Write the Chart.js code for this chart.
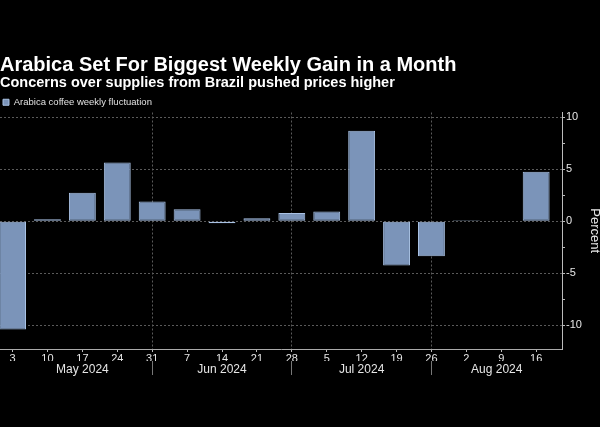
<!DOCTYPE html>
<html>
<head>
<meta charset="utf-8">
<script src="https://cdn.jsdelivr.net/npm/chart.js@4.4.1/dist/chart.umd.min.js"></script>
<style>
	html, body { margin: 0; padding: 0; background: #000; }
	#wrap { width: 600px; height: 427px; }
</style>
</head>
<body>
<div id="wrap"><canvas id="arabica"></canvas></div>
<script>
// weekly bars, dated Fridays May 3 .. Aug 16 2024
var weekDays = ["3", "10", "17", "24", "31", "7", "14", "21", "28", "5", "12", "19", "26", "2", "9", "16"];
var weeklyChange = [-10.4, 0.2, 2.75, 5.65, 1.9, 1.15, -0.2, 0.3, 0.8, 0.95, 8.7, -4.25, -3.35, 0.1, -0.05, 4.75];
var monthNames = ["May 2024", "Jun 2024", "Jul 2024", "Aug 2024"];
var monthFirstWeek = [0, 5, 9, 13];
var yTicks = [-10, -7.5, -5, -2.5, 0, 2.5, 5, 7.5, 10];

var X_MIN = -0.36, X_MAX = 15.74;

// month separators sit on the last week of the previous month
var separators = monthFirstWeek.slice(1).map(function(i) { return i - 1; });
var monthCenters = monthNames.map(function(m, k) {
	var lo = k === 0 ? monthFirstWeek[0] : separators[k - 1];
	var hi = k === monthNames.length - 1 ? X_MAX : separators[k];
	return (lo + hi) / 2;
});

var tickFont = { family: "'Liberation Sans', Arial, sans-serif", size: 11 };

var config = {
	type: 'bar',
	data: {
		datasets: [{
			label: 'Arabica coffee weekly fluctuation',
			data: weeklyChange.map(function(v, i) { return { x: i, y: v }; }),
			backgroundColor: '#7b94b9',
			borderColor: '#a9c2e4',
			borderWidth: 1,
			borderSkipped: false,
			categoryPercentage: 0.77,
			barPercentage: 1.0
		}]
	},
	options: {
		responsive: true,
		maintainAspectRatio: false,
		animation: false,
		layout: { padding: { left: 0, right: 0, top: 0, bottom: 36 } },
		plugins: {
			title: {
				display: true,
				text: 'Arabica Set For Biggest Weekly Gain in a Month',
				align: 'start',
				color: '#ffffff',
				font: { family: "'Liberation Sans', Arial, sans-serif", size: 20, weight: 'bold', lineHeight: 1 },
				padding: { top: 55, bottom: 1 }
			},
			subtitle: {
				display: true,
				text: 'Concerns over supplies from Brazil pushed prices higher',
				align: 'start',
				color: '#ffffff',
				font: { family: "'Liberation Sans', Arial, sans-serif", size: 14.5, weight: 'bold', lineHeight: 1 },
				padding: { top: 0, bottom: 4 }
			},
			legend: {
				display: true,
				align: 'start',
				maxHeight: 18,
				labels: {
					color: '#e0e0e0',
					boxWidth: 6,
					boxHeight: 6,
					padding: 3,
					font: { family: "'Liberation Sans', Arial, sans-serif", size: 9.5 }
				}
			},
			tooltip: { enabled: false }
		},
		scales: {
			x: {
				type: 'linear',
				position: 'bottom',
				offset: false,
				min: X_MIN,
				max: X_MAX,
				afterBuildTicks: function(scale) {
					scale.ticks = weekDays.map(function(d, i) { return { value: i }; });
				},
				afterFit: function(scale) { scale.height = 12; },
				ticks: {
					autoSkip: false,
					maxRotation: 0,
					padding: 0,
					color: '#e6e6e6',
					font: tickFont,
					callback: function(v) { return weekDays[v]; }
				},
				grid: {
					offset: false,
					drawTicks: true,
					tickLength: 3,
					tickColor: '#bbbbbb',
					color: function(ctx) {
						return ctx.tick && separators.indexOf(ctx.tick.value) >= 0 ? '#5a5a5a' : 'transparent';
					}
				},
				border: { display: true, color: '#aaaaaa', width: 1, dash: [2, 2] }
			},
			x2: {
				type: 'linear',
				position: 'bottom',
				offset: false,
				min: X_MIN,
				max: X_MAX,
				afterBuildTicks: function(scale) {
					var vals = monthCenters.concat(separators).sort(function(a, b) { return a - b; });
					scale.ticks = vals.map(function(v) { return { value: v }; });
				},
				afterFit: function(scale) { scale.height = 30; },
				ticks: {
					autoSkip: false,
					maxRotation: 0,
					padding: -13,
					color: '#e6e6e6',
					font: { family: "'Liberation Sans', Arial, sans-serif", size: 12 },
					callback: function(v) {
						for (var k = 0; k < monthCenters.length; k++) {
							if (Math.abs(monthCenters[k] - v) < 1e-6) return monthNames[k];
						}
						return '';
					}
				},
				grid: {
					offset: false,
					drawOnChartArea: false,
					drawTicks: true,
					tickLength: 14,
					tickColor: function(ctx) {
						return ctx.tick && separators.indexOf(ctx.tick.value) >= 0 ? '#777777' : 'transparent';
					}
				},
				border: { display: false }
			},
			y: {
				position: 'right',
				min: -12.27,
				max: 10.45,
				afterBuildTicks: function(scale) {
					scale.ticks = yTicks.map(function(v) { return { value: v }; });
				},
				afterFit: function(scale) { scale.width = 38; },
				ticks: {
					padding: 1,
					color: '#e6e6e6',
					font: tickFont,
					callback: function(v) { return v % 5 === 0 ? String(v) : ''; }
				},
				grid: {
					drawTicks: true,
					tickLength: 3,
					tickColor: '#bbbbbb',
					color: function(ctx) {
						return ctx.tick && ctx.tick.value % 5 === 0 ? '#5a5a5a' : 'transparent';
					}
				},
				border: { display: true, color: '#bbbbbb', width: 1, dash: [2, 2] },
				title: {
					display: true,
					text: 'Percent',
					color: '#e6e6e6',
					font: { family: "'Liberation Sans', Arial, sans-serif", size: 13, lineHeight: 1 },
					padding: { top: -1.5, bottom: 0 }
				}
			}
		}
	}
};

window.onload = function() {
	window.arabicaChart = new Chart(document.getElementById("arabica"), config);
};
</script>
</body>
</html>
